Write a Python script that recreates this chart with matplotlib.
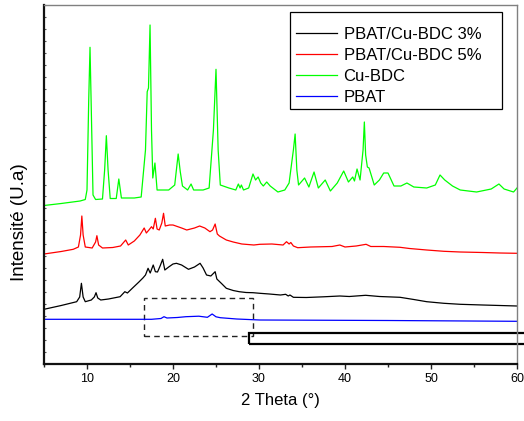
import matplotlib
matplotlib.use("Agg")
import matplotlib.pyplot as plt
from matplotlib.patches import Rectangle
from matplotlib.ticker import MultipleLocator, NullFormatter

plt.rcParams["font.family"] = ["Liberation Sans", "DejaVu Sans"]

# XRD patterns (2 theta in degrees, stacked intensity in arbitrary units)
theta_cubdc = [5.0, 7.0, 9.2, 9.8, 10.0, 10.2, 10.35, 10.5, 10.7, 11.0, 11.8, 12.05, 12.25,
               12.45, 12.7, 13.4, 13.7, 14.0, 15.5, 16.3, 16.8, 17.0, 17.15, 17.33, 17.5,
               17.65, 17.9, 18.15, 19.5, 20.2, 20.6, 20.85, 21.1, 21.7, 22.1, 22.4, 23.5,
               24.2, 24.7, 25.0, 25.25, 25.5, 26.5, 27.3, 27.6, 27.8, 27.95, 28.2, 28.8,
               29.3, 29.6, 29.9, 30.2, 30.5, 30.9, 31.3, 32.2, 33.0, 33.5, 33.8, 34.0,
               34.2, 34.4, 34.6, 35.3, 35.8, 36.4, 36.9, 37.7, 38.3, 39.1, 39.85, 40.4,
               40.9, 41.1, 41.4, 41.75, 42.1, 42.25, 42.4, 42.6, 42.8, 43.4, 44.0, 44.5,
               45.0, 45.7, 46.5, 47.2, 48.0, 49.5, 50.5, 51.05, 51.6, 52.5, 53.4, 55.3,
               57.0, 57.9, 58.5, 59.6, 60.0]
int_cubdc = [158.5, 160.5, 163.0, 164.5, 174.0, 264.0, 316.7, 254.0, 169.0, 164.5, 165.0,
             194.0, 228.3, 194.0, 165.5, 165.5, 185.0, 166.0, 166.0, 167.0, 214.0, 272.3,
             276.0, 339.0, 234.0, 186.0, 201.0, 174.0, 174.0, 179.0, 210.0, 192.0, 178.0,
             174.0, 180.0, 174.0, 174.0, 176.0, 234.0, 294.7, 214.0, 179.0, 176.0, 174.0,
             180.0, 176.0, 179.0, 174.0, 176.0, 190.0, 184.0, 187.0, 181.0, 178.0, 182.0,
             178.0, 172.0, 174.0, 181.0, 201.0, 214.0, 230.0, 194.0, 179.0, 186.0, 177.0,
             192.0, 176.0, 184.0, 173.0, 181.0, 193.0, 182.0, 187.0, 183.0, 195.0, 184.0,
             214.0, 242.0, 209.0, 197.0, 196.0, 179.0, 184.0, 191.0, 191.0, 178.0, 178.0,
             181.0, 177.0, 176.0, 179.0, 189.0, 184.0, 178.0, 174.0, 172.0, 175.0, 180.0,
             175.0, 172.0, 176.0]

theta_5 = [5.0, 7.0, 8.4, 9.0, 9.25, 9.4, 9.55, 9.8, 10.6, 11.0, 11.15, 11.35, 11.8, 13.0,
           13.9, 14.5, 14.8, 15.5, 16.15, 16.65, 16.9, 17.2, 17.5, 17.7, 17.95, 18.15,
           18.4, 18.7, 18.9, 19.1, 19.6, 20.0, 21.0, 21.6, 22.5, 23.1, 23.7, 24.3, 24.6,
           24.9, 25.15, 25.4, 26.2, 27.0, 28.0, 29.4, 30.1, 31.5, 32.8, 33.2, 33.5, 33.7,
           34.0, 34.5, 36.0, 38.5, 39.4, 40.0, 41.3, 42.45, 43.0, 44.5, 46.4, 47.5, 49.5,
           51.5, 53.4, 56.0, 58.0, 60.0]
int_5 = [110.0, 112.5, 114.7, 117.0, 129.0, 148.0, 129.0, 117.0, 116.0, 122.0, 128.3, 119.0,
         116.0, 116.5, 118.0, 124.0, 119.0, 123.0, 129.0, 136.0, 131.0, 134.0, 137.3, 135.0,
         145.7, 135.0, 134.0, 141.0, 150.7, 138.0, 139.0, 139.0, 136.0, 134.0, 136.0, 138.0,
         136.0, 132.3, 134.0, 140.0, 130.0, 128.0, 124.0, 122.0, 120.0, 119.0, 119.7, 120.0,
         119.0, 122.3, 120.0, 121.5, 118.0, 116.3, 117.0, 117.5, 119.0, 117.0, 118.0, 119.7,
         117.5, 117.5, 116.7, 115.5, 114.0, 112.7, 112.0, 111.5, 111.0, 110.7]

theta_3 = [5.0, 7.0, 8.8, 9.15, 9.35, 9.55, 9.8, 10.5, 10.85, 11.05, 11.25, 11.6, 12.5,
           13.85, 14.4, 14.7, 15.3, 16.0, 16.5, 16.8, 17.1, 17.35, 17.7, 17.95, 18.2, 18.5,
           18.8, 19.05, 19.5, 20.0, 20.4, 21.0, 21.8, 22.5, 23.15, 23.5, 23.9, 24.4, 24.9,
           25.1, 25.7, 26.2, 27.0, 27.7, 28.5, 29.3, 30.1, 31.2, 32.5, 33.1, 33.4, 33.6,
           34.0, 35.5, 37.5, 39.4, 40.5, 42.4, 44.0, 46.4, 48.0, 49.5, 51.5, 53.4, 56.0,
           58.0, 60.0]
int_3 = [54.7, 58.5, 62.3, 67.0, 80.7, 67.0, 62.3, 64.0, 67.0, 71.3, 66.0, 64.0, 65.0, 67.3,
         72.3, 71.0, 76.0, 81.7, 86.0, 89.0, 95.7, 91.0, 99.0, 92.3, 92.0, 98.0, 104.7,
         94.0, 97.0, 100.0, 100.7, 99.0, 94.7, 97.0, 100.7, 96.0, 89.0, 88.0, 92.3, 85.0,
         80.0, 75.7, 73.5, 72.3, 71.5, 71.3, 70.7, 70.0, 69.0, 69.7, 68.0, 69.0, 66.7,
         66.5, 67.2, 68.0, 67.5, 68.7, 67.5, 66.7, 64.5, 62.3, 60.7, 59.7, 59.0, 58.5, 58.0]

theta_pbat = [5.0, 17.5, 18.6, 18.95, 19.3, 20.5, 21.5, 23.0, 24.0, 24.55, 25.0, 25.5, 27.4,
              30.1, 45.0, 60.0]
int_pbat = [44.7, 44.7, 45.5, 47.3, 46.0, 46.5, 47.3, 47.8, 46.7, 50.0, 47.2, 46.3, 45.0,
            44.0, 43.5, 42.7]

labels = ["PBAT/Cu-BDC 3%", "PBAT/Cu-BDC 5%", "Cu-BDC", "PBAT"]
colors = ["#000000", "#ff0000", "#00ff00", "#0000ff"]

# zoom region marker and the frame below it
zoom_box = (16.6, 27.7, 29.3, 66.3)   # x0, y0, x1, y1
frame_box = (28.85, 20.0, 70.0, 31.3)

fig = plt.figure(figsize=(5.24, 4.21), dpi=100)
ax = fig.add_axes([44 / 524, 1 - 364 / 421, 473 / 524, 359 / 421])

series = [(theta_3, int_3), (theta_5, int_5), (theta_cubdc, int_cubdc), (theta_pbat, int_pbat)]
for (tx, ty), lab, col in zip(series, labels, colors):
    ax.plot(tx, ty, color=col, lw=0.9, label=lab)

ax.set_xlim(5, 60)
ax.set_ylim(0, 359)

x0, y0, x1, y1 = zoom_box
ax.add_patch(Rectangle((x0, y0), x1 - x0, y1 - y0, fill=False, ec="#222222",
                       lw=1.0, ls=(0, (4, 3))))
x0, y0, x1, y1 = frame_box
ax.add_patch(Rectangle((x0, y0), x1 - x0, y1 - y0, fill=False, ec="black",
                       lw=1.6, clip_on=False))

ax.xaxis.set_major_locator(MultipleLocator(10))
ax.xaxis.set_minor_locator(MultipleLocator(5))
ax.tick_params(axis="x", which="major", direction="out", length=3.3, width=1.0,
               labelsize=9, pad=3, color="#222222")
ax.tick_params(axis="x", which="minor", direction="out", length=2.0, width=1.0,
               color="#222222")
ax.yaxis.set_major_locator(MultipleLocator(359 / 30))
ax.yaxis.set_major_formatter(NullFormatter())
ax.tick_params(axis="y", which="major", direction="in", length=1.5, width=0.8,
               color="#555555")

for side in ("left", "bottom"):
    ax.spines[side].set_linewidth(1.6)
    ax.spines[side].set_color("#111111")
for side in ("top", "right"):
    ax.spines[side].set_linewidth(1.0)
    ax.spines[side].set_color("#808080")

ax.set_xlabel("2 Theta (°)", fontsize=12, labelpad=6)
ax.set_ylabel("Intensité (U.a)", fontsize=13.5)
ax.yaxis.set_label_coords(-0.033, 0.396)

# legend entries, with a plain frame drawn around them
leg = ax.legend(loc="upper left", bbox_to_anchor=(0.5328, 0.938), borderaxespad=0,
                fontsize=12, frameon=False, handlelength=2.45, handletextpad=0.4,
                labelspacing=0.35, borderpad=0)
ax.add_patch(Rectangle((0.520, 0.711), 0.449, 0.2687, transform=ax.transAxes,
                       fill=False, ec="black", lw=0.9, zorder=5))

fig.savefig("out.png", dpi=100)
